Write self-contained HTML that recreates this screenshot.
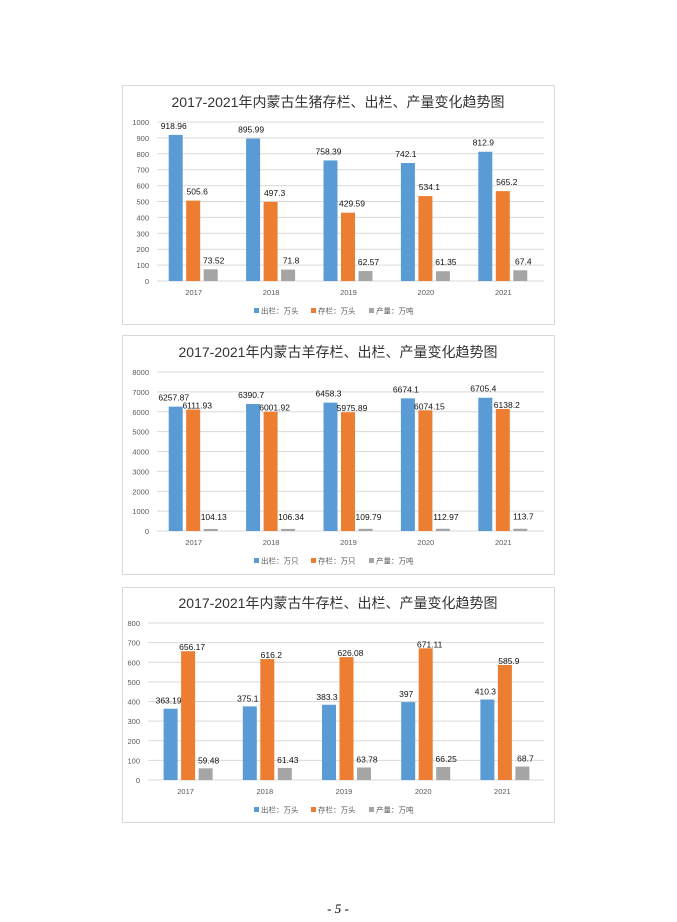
<!DOCTYPE html>
<html><head><meta charset="utf-8">
<style>
html,body{margin:0;padding:0;background:#fff;}
body{width:677px;height:922px;position:relative;overflow:hidden;}
svg{position:absolute;left:0;top:0;}
</style></head>
<body>
<svg id="s" width="677" height="922" xmlns="http://www.w3.org/2000/svg" font-family="Liberation Sans, Noto Sans CJK SC, sans-serif">
<text x="338" y="913" font-family="Liberation Serif, serif" font-size="13" text-anchor="middle" fill="#000">- <tspan font-style="italic">5</tspan> -</text>
</svg>
<script>
var s=document.getElementById('s');var NS='http://www.w3.org/2000/svg';
function el(t,a,txt){var e=document.createElementNS(NS,t);for(var k in a)e.setAttribute(k,a[k]);if(txt!==undefined)e.textContent=txt;s.appendChild(e);return e;}
var years=['2017','2018','2019','2020','2021'];
var charts=[
{top:85,bot:324,title:'2017-2021年内蒙古生猪存栏、出栏、产量变化趋势图',ty:107,gl:157,gr:544,z:281,t:122,max:1000,step:100,sh:-3,
 d:[[918.96,895.99,758.39,742.1,812.9],[505.6,497.3,429.59,534.1,565.2],[73.52,71.8,62.57,61.35,67.4]],
 L:[['918.96','895.99','758.39','742.1','812.9'],['505.6','497.3','429.59','534.1','565.2'],['73.52','71.8','62.57','61.35','67.4']],
 leg:['出栏：万头','存栏：万头','产量：万吨'],yl:292,lg:311,off:[9,9,9]},
{top:335,bot:574,title:'2017-2021年内蒙古羊存栏、出栏、产量变化趋势图',ty:357,gl:157,gr:544,z:531,t:372,max:8000,step:1000,sh:-3,
 d:[[6257.87,6390.7,6458.3,6674.1,6705.4],[6111.93,6001.92,5975.89,6074.15,6138.2],[104.13,106.34,109.79,112.97,113.7]],
 L:[['6257.87','6390.7','6458.3','6674.1','6705.4'],['6111.93','6001.92','5975.89','6074.15','6138.2'],['104.13','106.34','109.79','112.97','113.7']],
 leg:['出栏：万只','存栏：万只','产量：万吨'],yl:542,lg:561,off:[9,4,12]},
{top:587,bot:822,title:'2017-2021年内蒙古牛存栏、出栏、产量变化趋势图',ty:608,gl:148,gr:544,z:780,t:623,max:800,step:100,sh:0,
 d:[[363.19,375.1,383.3,397,410.3],[656.17,616.2,626.08,671.11,585.9],[59.48,61.43,63.78,66.25,68.7]],
 L:[['363.19','375.1','383.3','397','410.3'],['656.17','616.2','626.08','671.11','585.9'],['59.48','61.43','63.78','66.25','68.7']],
 leg:['出栏：万头','存栏：万头','产量：万吨'],yl:791,lg:810,off:[8,4,8]}
];
var cols=['#5b9bd5','#ed7d31','#a5a5a5'];
var lxo=[-2,4,3];
charts.forEach(function(c){
 el('rect',{x:122.5,y:c.top+0.5,width:432,height:c.bot-c.top,fill:'#fff',stroke:'#d9d9d9','stroke-width':1});
 el('text',{x:338,y:c.ty,'font-size':14,'text-anchor':'middle',fill:'#333'},c.title);
 var n=c.max/c.step;
 for(var i=0;i<=n;i++){var y=c.z-(c.z-c.t)*i/n;
  el('line',{x1:c.gl,x2:c.gr,y1:y,y2:y,stroke:'#d9d9d9','stroke-width':1});
  el('text',{x:c.gl-8,y:y+3,'font-size':7.5,'text-anchor':'end',fill:'#595959'},String(i*c.step));}
 var cw=(c.gr-c.gl)/5;
 for(var k=0;k<5;k++){var cx=c.gl+cw*(k+0.5);
  el('text',{x:cx-2,y:c.yl+3,'font-size':7.5,'text-anchor':'middle',fill:'#595959'},years[k]);
  for(var j=0;j<3;j++){var bx=cx-24+j*17.5+c.sh;var v=c.d[j][k];var h=(c.z-c.t)*v/c.max;
   el('rect',{x:bx,y:c.z-h,width:14,height:h,fill:cols[j]});
   el('text',{x:bx+7+lxo[j],y:c.z-h-c.off[j]+3,'font-size':8.5,'text-anchor':'middle',fill:'#111'},c.L[j][k]);}
 }
 var lx=[254,311,369];
 for(var j=0;j<3;j++){el('rect',{x:lx[j],y:c.lg-3,width:5,height:5,fill:cols[j]});
  el('text',{x:lx[j]+7,y:c.lg+2.5,'font-size':7.5,fill:'#595959'},c.leg[j]);}
});
</script>
</body></html>
